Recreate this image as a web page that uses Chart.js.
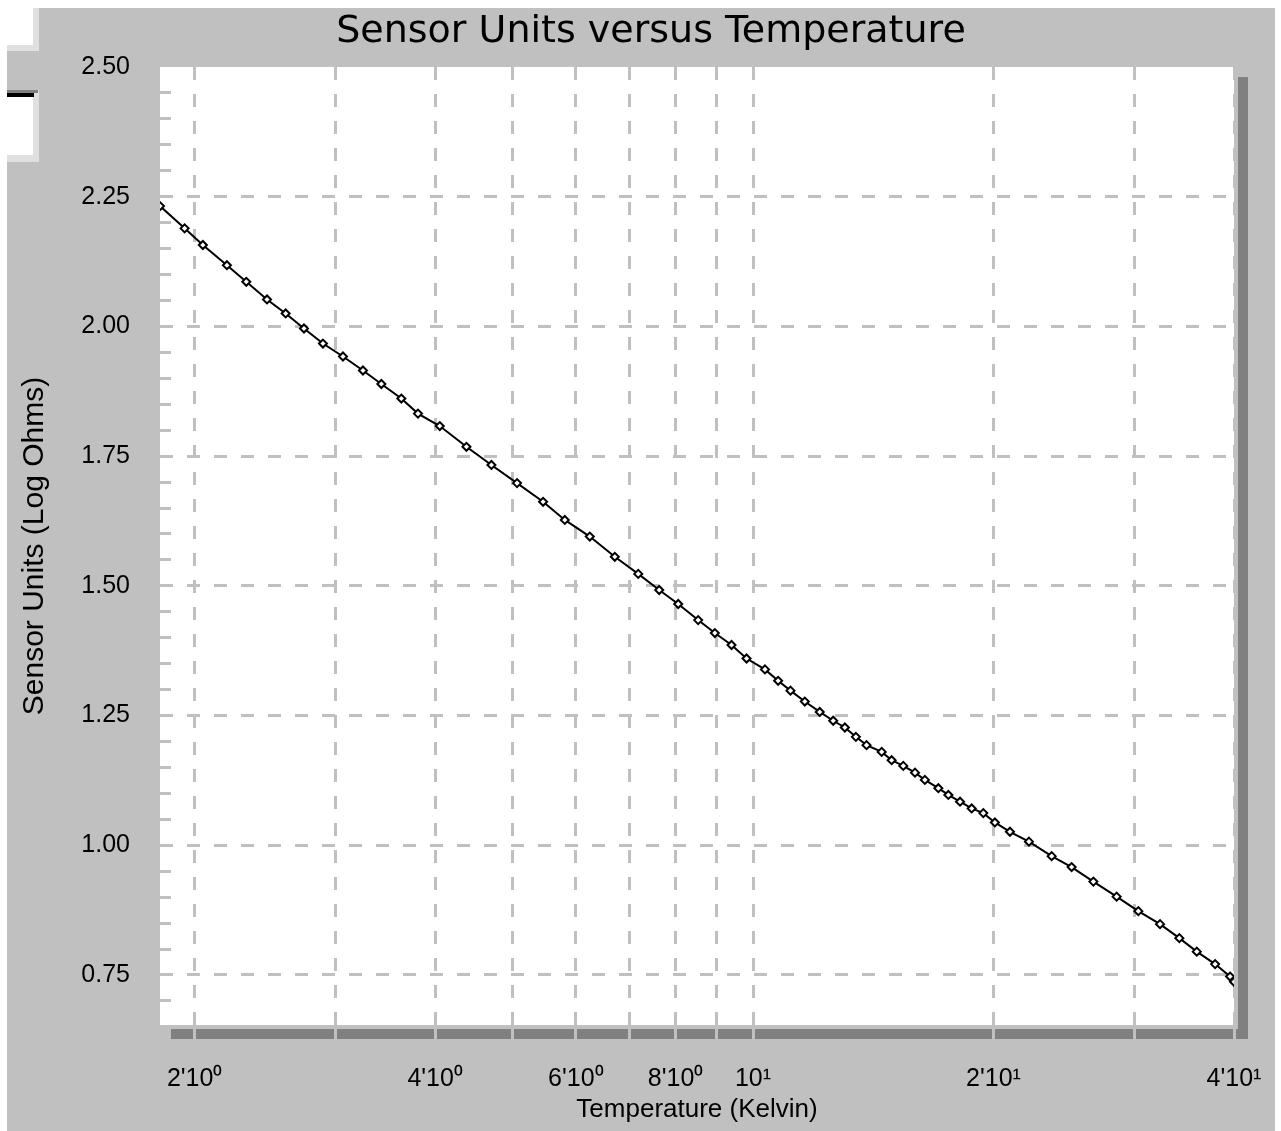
<!DOCTYPE html>
<html>
<head>
<meta charset="utf-8">
<title>Sensor Units versus Temperature</title>
<script src="https://cdn.jsdelivr.net/npm/chart.js@4.4.1/dist/chart.umd.min.js"></script>
<style>
  html, body { margin: 0; padding: 0; background: #ffffff; }
  #chart { display: block; }
</style>
</head>
<body>
<canvas id="chart" width="1281" height="1131"></canvas>
<script>
// Temperature (Kelvin) of each calibration point
const temperatures = [1.81, 1.943, 2.048, 2.195, 2.321, 2.464, 2.600, 2.741, 2.895, 3.067,
  3.249, 3.426, 3.629, 3.807, 4.054, 4.378, 4.705, 5.065, 5.460, 5.813,
  6.247, 6.714, 7.183, 7.631, 8.060, 8.537, 8.958, 9.399, 9.815, 10.35,
  10.75, 11.14, 11.61, 12.12, 12.60, 13.03, 13.45, 13.87, 14.49, 14.91,
  15.42, 15.95, 16.41, 17.06, 17.56, 18.16, 18.78, 19.42, 20.08, 20.97,
  22.15, 23.65, 25.05, 26.67, 28.52, 30.36, 32.32, 34.17, 35.93, 37.88,
  39.55, 40.0];

// Sensor units (log ohms) at each temperature
const sensorUnits = [2.232, 2.189, 2.157, 2.118, 2.086, 2.052, 2.025, 1.996, 1.967, 1.942,
  1.915, 1.889, 1.861, 1.832, 1.808, 1.768, 1.733, 1.698, 1.662, 1.627,
  1.595, 1.556, 1.523, 1.492, 1.465, 1.434, 1.409, 1.386, 1.360, 1.339,
  1.317, 1.298, 1.277, 1.257, 1.240, 1.227, 1.209, 1.193, 1.180, 1.164,
  1.153, 1.140, 1.126, 1.110, 1.097, 1.084, 1.071, 1.062, 1.044, 1.026,
  1.007, 0.979, 0.958, 0.930, 0.901, 0.873, 0.848, 0.821, 0.795, 0.771,
  0.747, 0.737];

// X axis: grid positions and labelled ticks
const xGridValues = [2, 3, 4, 5, 6, 7, 8, 9, 10, 20, 30, 40];
const xLabelValues = [2, 4, 6, 8, 10, 20, 40];
const xTickLabels = ["2'10\u2070", "4'10\u2070", "6'10\u2070", "8'10\u2070", "10\u00b9", "2'10\u00b9", "4'10\u00b9"];

// Y axis: minor ticks every 0.05, labels every 0.25
const yTickValues = [0.70, 0.75, 0.80, 0.85, 0.90, 0.95, 1.00, 1.05, 1.10, 1.15, 1.20, 1.25,
  1.30, 1.35, 1.40, 1.45, 1.50, 1.55, 1.60, 1.65, 1.70, 1.75, 1.80, 1.85,
  1.90, 1.95, 2.00, 2.05, 2.10, 2.15, 2.20, 2.25, 2.30, 2.35, 2.40, 2.45, 2.50];
const yLabelValues = [0.75, 1.00, 1.25, 1.50, 1.75, 2.00, 2.25, 2.50];
const yTickLabels = ['0.75', '1.00', '1.25', '1.50', '1.75', '2.00', '2.25', '2.50'];

const GRID_GRAY = '#c0c0c0';
const PANEL_GRAY = '#c0c0c0';
const SHADOW_GRAY = '#808080';

function findIndex(list, v) {
    return list.findIndex(item => Math.abs(item - v) < 1e-6);
}

// Window-style panel, plot background and drop shadow
const panelPlugin = {
    id: 'panel',
    beforeDraw(chart) {
        const ctx = chart.ctx;
        const area = chart.chartArea;
        const w = chart.width, h = chart.height;
        ctx.save();
        ctx.fillStyle = '#ffffff';
        ctx.fillRect(0, 0, w, h);
        ctx.fillStyle = PANEL_GRAY;
        ctx.fillRect(7, 8, w - 13, h - 8);

        // small boxes in the top left corner
        ctx.fillStyle = '#e0e0e0';
        ctx.fillRect(7, 8, 32, 43);
        ctx.fillStyle = '#ffffff';
        ctx.fillRect(7, 8, 26, 37);
        ctx.fillStyle = '#e0e0e0';
        ctx.fillRect(7, 90, 32, 72);
        ctx.fillStyle = SHADOW_GRAY;
        ctx.fillRect(7, 90, 31, 3);
        ctx.fillStyle = '#000000';
        ctx.fillRect(7, 93, 27, 4);
        ctx.fillStyle = '#ffffff';
        ctx.fillRect(7, 97, 26, 58);

        // shadow of the plot area
        ctx.fillStyle = SHADOW_GRAY;
        ctx.fillRect(area.right + 4, area.top + 10, 10, area.bottom - area.top + 4);
        ctx.fillRect(area.left + 11, area.bottom + 4, area.right - area.left + 3, 10);

        // plot area
        ctx.fillStyle = '#ffffff';
        ctx.fillRect(area.left, area.top, area.right - area.left, area.bottom - area.top);
        ctx.restore();
    }
};

const points = temperatures.map((t, i) => ({ x: t, y: sensorUnits[i] }));

const ctx = document.getElementById('chart').getContext('2d');
const chart = new Chart(ctx, {
    type: 'line',
    data: {
        datasets: [{
            label: 'Sensor Units',
            data: points,
            borderColor: '#000000',
            borderWidth: 2,
            pointStyle: 'rectRot',
            pointRadius: 4,
            pointBorderWidth: 2,
            pointBorderColor: '#000000',
            pointBackgroundColor: '#ffffff',
            tension: 0,
            fill: false
        }]
    },
    options: {
        responsive: false,
        animation: false,
        devicePixelRatio: 1,
        layout: { padding: { left: 68, right: 47, top: 8, bottom: 0 } },
        plugins: {
            legend: { display: false },
            tooltip: { enabled: false },
            title: {
                display: true,
                text: 'Sensor Units versus Temperature',
                color: '#000000',
                font: { family: "'DejaVu Sans', sans-serif", size: 38, weight: 'normal', lineHeight: 1 },
                padding: { top: 5, bottom: 16 }
            }
        },
        scales: {
            x: {
                type: 'logarithmic',
                min: 1.81,
                max: 40,
                afterBuildTicks: (scale) => {
                    scale.ticks = xGridValues.map(v => ({ value: v }));
                },
                afterFit: (scale) => {
                    scale.height = 106;
                    scale.paddingLeft = 0;
                    scale.paddingRight = 0;
                },
                border: { display: false, dash: [13, 14] },
                grid: {
                    color: GRID_GRAY,
                    lineWidth: 3,
                    drawTicks: true,
                    tickLength: 15,
                    tickColor: GRID_GRAY,
                    tickWidth: 3
                },
                ticks: {
                    autoSkip: false,
                    maxRotation: 0,
                    padding: 24,
                    color: '#000000',
                    font: { family: "'Liberation Sans', Arial, sans-serif", size: 25 },
                    callback: (value) => {
                        const i = findIndex(xLabelValues, value);
                        return i >= 0 ? xTickLabels[i] : '';
                    }
                },
                title: {
                    display: true,
                    text: 'Temperature (Kelvin)',
                    color: '#000000',
                    font: { family: "'Liberation Sans', Arial, sans-serif", size: 26, lineHeight: 1 },
                    padding: { top: 0, bottom: 8 }
                }
            },
            y: {
                type: 'linear',
                min: 0.6536,
                max: 2.5,
                afterBuildTicks: (scale) => {
                    scale.ticks = yTickValues.map(v => ({ value: v }));
                },
                afterFit: (scale) => { scale.width = 92; },
                border: { display: false, dash: [13, 14] },
                grid: {
                    color: (c) => {
                        const v = c.tick ? c.tick.value : 0;
                        if (Math.abs(v - 2.5) < 1e-6) return 'rgba(0,0,0,0)';
                        return findIndex(yLabelValues, v) >= 0 ? GRID_GRAY : 'rgba(0,0,0,0)';
                    },
                    lineWidth: 3,
                    drawTicks: true,
                    tickLength: -11,
                    tickColor: (c) => {
                        const v = c.tick ? c.tick.value : 0;
                        return Math.abs(v - 2.5) < 1e-6 ? 'rgba(0,0,0,0)' : GRID_GRAY;
                    },
                    tickWidth: 3
                },
                ticks: {
                    autoSkip: false,
                    padding: 41,
                    color: '#000000',
                    font: { family: "'Liberation Sans', Arial, sans-serif", size: 25 },
                    callback: (value) => {
                        const i = findIndex(yLabelValues, value);
                        return i >= 0 ? yTickLabels[i] : '';
                    }
                },
                title: {
                    display: true,
                    text: 'Sensor Units (Log Ohms)',
                    color: '#000000',
                    font: { family: "'Liberation Sans', Arial, sans-serif", size: 30, lineHeight: 1 },
                    padding: { top: -48, bottom: 0 }
                }
            }
        }
    },
    plugins: [panelPlugin]
});
</script>
</body>
</html>
